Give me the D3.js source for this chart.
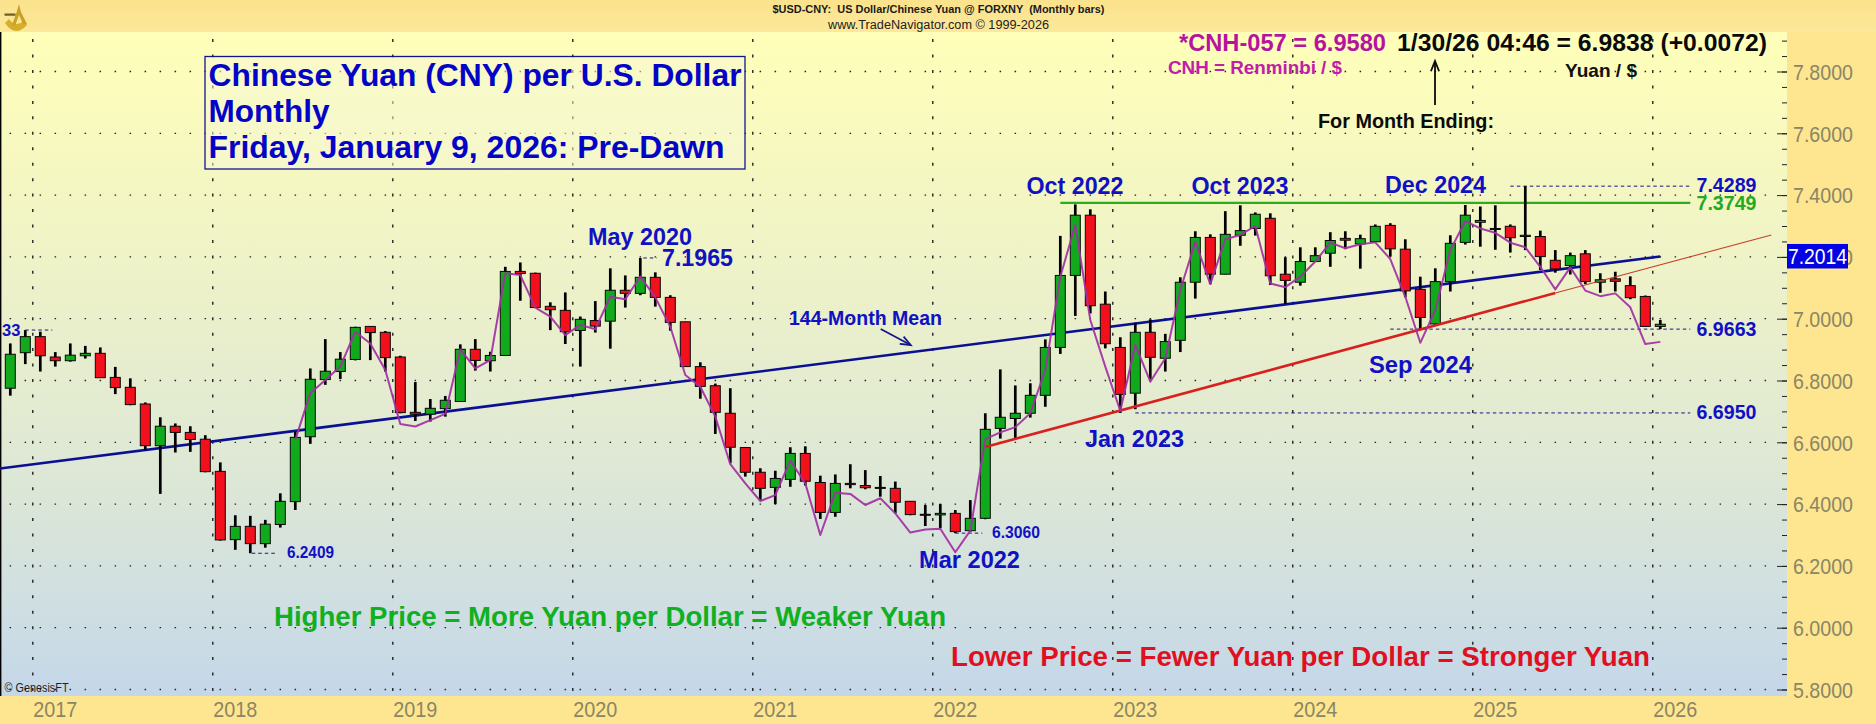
<!DOCTYPE html>
<html><head><meta charset="utf-8">
<style>html,body{margin:0;padding:0;background:#fce594;overflow:hidden}svg{display:block}text{font-family:"Liberation Sans",Arial,sans-serif}</style>
<script src="https://cdn.jsdelivr.net/npm/d3@7"></script>
</head><body><svg id="c" width="1876" height="724"></svg>
<script>
// Months run from Nov 2016 (index -2, Jan 2017 = 0) to Jan 2026.
const firstMonthIndex = -2;
const opens = [6.775,6.890,6.942,6.876,6.864,6.880,6.888,6.810,6.778,6.724,6.589,6.652,6.632,6.610,
 6.506,6.285,6.328,6.272,6.334,6.408,6.618,6.803,6.829,6.868,6.975,6.956,
 6.876,6.697,6.691,6.709,6.732,6.901,6.864,6.881,7.153,7.147,7.040,7.027,
 6.962,6.994,6.992,7.092,7.082,7.134,7.069,6.990,6.845,6.783,6.694,6.583,
 6.503,6.454,6.480,6.564,6.470,6.373,6.467,6.460,6.452,6.451,6.409,6.367,
 6.365,6.370,6.314,6.354,6.645,6.677,6.694,6.752,6.907,7.140,7.335,7.047,
 6.907,6.759,6.956,6.872,6.930,7.118,7.263,7.144,7.270,7.292,7.325,7.144,
 7.118,7.185,7.212,7.260,7.242,7.249,7.302,7.225,7.095,6.983,7.120,7.247,
 7.312,7.292,7.299,7.270,7.266,7.189,7.172,7.210,7.118,7.129,7.107,7.072,6.975];
const highs = [6.920,6.963,6.958,6.892,6.920,6.912,6.907,6.844,6.807,6.729,6.681,6.661,6.652,6.623,
 6.535,6.364,6.362,6.349,6.435,6.634,6.839,6.934,6.892,6.974,6.976,6.960,
 6.880,6.795,6.740,6.750,6.917,6.934,6.893,7.168,7.182,7.149,7.053,7.085,
 7.007,7.057,7.163,7.140,7.1965,7.150,7.076,6.990,6.859,6.790,6.775,6.583,
 6.516,6.508,6.584,6.587,6.492,6.496,6.529,6.510,6.491,6.473,6.409,6.397,
 6.400,6.381,6.413,6.694,6.836,6.784,6.791,6.933,7.268,7.370,7.354,7.088,
 6.940,6.987,6.998,6.951,7.134,7.283,7.273,7.348,7.367,7.344,7.341,7.199,
 7.231,7.231,7.280,7.283,7.272,7.305,7.309,7.257,7.136,7.163,7.270,7.368,
 7.363,7.367,7.305,7.4289,7.285,7.222,7.214,7.222,7.147,7.152,7.137,7.075,6.996];
const lows = [6.751,6.853,6.829,6.845,6.861,6.871,6.809,6.756,6.720,6.575,6.433,6.567,6.569,6.503,
 6.282,6.252,6.2409,6.259,6.324,6.381,6.595,6.786,6.805,6.865,6.866,6.829,
 6.694,6.669,6.667,6.683,6.732,6.832,6.829,6.880,7.058,7.036,6.963,6.918,
 6.845,6.955,6.903,7.036,7.076,7.039,6.961,6.845,6.741,6.627,6.532,6.489,
 6.413,6.400,6.456,6.460,6.352,6.359,6.451,6.448,6.424,6.370,6.364,6.329,
 6.322,6.306,6.311,6.351,6.612,6.613,6.680,6.715,6.886,7.009,7.017,6.904,
 6.695,6.707,6.804,6.829,6.892,7.065,7.112,7.144,7.236,7.269,7.109,7.048,
 7.107,7.185,7.168,7.225,7.162,7.248,7.201,7.069,6.963,6.980,7.088,7.240,
 7.233,7.223,7.214,7.222,7.158,7.149,7.143,7.112,7.084,7.088,7.063,6.974,6.9663];
const closes = [6.885,6.942,6.880,6.864,6.882,6.888,6.809,6.777,6.722,6.589,6.652,6.632,6.609,6.505,
 6.284,6.328,6.272,6.335,6.409,6.616,6.804,6.830,6.869,6.972,6.955,6.874,
 6.696,6.691,6.710,6.736,6.901,6.865,6.881,7.153,7.146,7.036,7.029,6.958,
 6.998,6.976,7.092,7.082,7.134,7.069,6.988,6.845,6.781,6.697,6.584,6.503,
 6.451,6.483,6.564,6.474,6.373,6.467,6.463,6.453,6.454,6.406,6.366,6.365,
 6.370,6.311,6.354,6.642,6.681,6.694,6.752,6.907,7.140,7.335,7.042,6.919,
 6.755,6.956,6.875,6.926,7.118,7.263,7.144,7.273,7.285,7.338,7.139,7.124,
 7.185,7.204,7.253,7.254,7.259,7.299,7.226,7.090,7.004,7.120,7.244,7.335,
 7.318,7.290,7.262,7.266,7.201,7.161,7.204,7.120,7.126,7.121,7.068,6.975,6.982];

// CNH close, from Jun 2018 (index 17)
const cnhFirstIndex = 17;
const cnhCloses = [6.608,6.759,6.802,6.845,6.958,6.920,6.834,6.659,6.651,6.672,6.692,6.901,
 6.839,6.866,7.147,7.141,7.036,7.007,6.947,6.980,6.966,7.071,7.063,7.136,7.069,6.974,6.818,6.780,6.683,6.529,6.467,
 6.410,6.429,6.541,6.467,6.300,6.437,6.433,6.397,6.419,6.370,6.308,6.318,
 6.320,6.244,6.314,6.610,6.632,6.649,6.694,6.834,7.136,7.303,6.996,6.845,
 6.702,6.915,6.796,6.872,7.093,7.249,7.112,7.257,7.271,7.300,7.114,7.102,
 7.136,7.185,7.246,7.228,7.241,7.247,7.193,7.071,6.922,7.028,7.222,7.316,
 7.292,7.278,7.246,7.231,7.168,7.095,7.166,7.091,7.073,7.082,7.037,6.918,6.925];

const meanMonths = [-2.69,108];
const meanValues = [6.515,7.2014];
const trendMonths = [63,101];
const trendValues = [6.585,7.083];
const trendExtMonths = [101,115.4];
const trendExtValues = [7.083,7.271];
const resistMonths = [68,110];
const resistValues = [7.3749,7.3749];

const yearLabels = [2017,2018,2019,2020,2021,2022,2023,2024,2025,2026];
const priceTicks = [5.8,6.0,6.2,6.4,6.6,6.8,7.0,7.2,7.4,7.6,7.8];
const priceMinorTicks = [5.8,5.85,5.9,5.95,6.0,6.05,6.1,6.15,6.2,6.25,6.3,6.35,6.4,6.45,6.5,6.55,6.6,6.65,6.7,6.75,6.8,6.85,6.9,6.95,7.0,7.05,7.1,7.15,7.2,7.25,7.3,7.35,7.4,7.45,7.5,7.55,7.6,7.65,7.7,7.75,7.8,7.85,7.9];
const lastValue = 7.2014;

const L = 0, R = 1787, T = 32, B = 696;
const x = d3.scaleLinear().domain([0,108]).range([40.3,1660.3]);
const y = d3.scaleLinear().domain([5.8,7.8]).range([689.5,71.5]);
const svg = d3.select('#c');
const defs = svg.append('defs');
const g1 = defs.append('linearGradient').attr('id','bg').attr('x1',0).attr('y1',0).attr('x2',0).attr('y2',1);
[[0,'#ffffb9'],[0.22,'#f5f7c2'],[0.45,'#e9efcc'],[0.68,'#dde7d6'],[0.85,'#d0dfe1'],[1,'#c4d7e9']].forEach(s=>g1.append('stop').attr('offset',s[0]).attr('stop-color',s[1]));
const g2 = defs.append('linearGradient').attr('id','top').attr('x1',0).attr('y1',0).attr('x2',0).attr('y2',1);
[[0,'#fbe28c'],[1,'#fce89a']].forEach(s=>g2.append('stop').attr('offset',s[0]).attr('stop-color',s[1]));

svg.append('rect').attr('width',1876).attr('height',724).attr('fill','#fde68f');
svg.append('rect').attr('width',1876).attr('height',T).attr('fill','url(#top)');
svg.append('rect').attr('x',L).attr('y',T).attr('width',R-L).attr('height',B-T).attr('fill','url(#bg)');
svg.append('line').attr('x1',0.7).attr('x2',0.7).attr('y1',T).attr('y2',B).attr('stroke','#000').attr('stroke-width',1.4);

// grid
const yearTickPos = yearLabels.map((yr,i)=>12*i-0.5);
const grid = svg.append('g');
grid.selectAll('line.h').data(priceTicks).join('line').attr('class','h')
  .attr('x1',x(-2)-0.7).attr('x2',1768).attr('y1',d=>y(d)).attr('y2',d=>y(d))
  .attr('stroke','#222').attr('stroke-width',1.3).attr('stroke-dasharray','1.5 13.5');
grid.selectAll('g.v').data(yearTickPos).join('g').attr('class','v').each(function(m){
  d3.select(this).selectAll('line').data(priceMinorTicks).join('line')
    .attr('x1',x(m)).attr('x2',x(m)).attr('y1',d=>y(d)-1.5).attr('y2',d=>y(d)+1.5)
    .attr('stroke','#111').attr('stroke-width',1.3);
});

// axes
const yAxisMinor = d3.axisLeft(y).tickValues(priceMinorTicks).tickSize(5).tickFormat('');
const yAxisMajor = d3.axisLeft(y).tickValues(priceTicks).tickSize(10).tickFormat(d3.format('.4f'));
const gm = svg.append('g').attr('transform',`translate(${R},0)`).call(yAxisMinor);
gm.select('.domain').remove();
gm.selectAll('line').attr('stroke','#222').attr('stroke-width',1);
const gM = svg.append('g').attr('transform',`translate(${R},0)`).call(yAxisMajor);
gM.select('.domain').remove();
gM.selectAll('line').attr('stroke','#222').attr('stroke-width',1);
gM.selectAll('text').attr('x',6).attr('dy','0.36em').attr('text-anchor','start')
  .attr('textLength',60).attr('lengthAdjust','spacingAndGlyphs')
  .style('font-family','"Liberation Sans",Arial,sans-serif').style('font-size','21.5px').attr('fill','#8b8566');
const xAxis = d3.axisBottom(x).tickValues(yearTickPos).tickSize(0).tickFormat((d,i)=>yearLabels[i]);
const gx = svg.append('g').attr('transform',`translate(0,${B})`).call(xAxis);
gx.select('.domain').remove();
gx.selectAll('text').attr('y',21).attr('dy',0).attr('text-anchor','start')
  .attr('textLength',44).attr('lengthAdjust','spacingAndGlyphs')
  .style('font-family','"Liberation Sans",Arial,sans-serif').style('font-size','21.5px').attr('fill','#8b8566');

const lineGen = d3.line().x(d=>x(d[0])).y(d=>y(d[1]));
const seg = (ms,vs)=>ms.map((m,i)=>[m,vs[i]]);

// mean and trend lines
svg.append('path').attr('d',lineGen(seg(meanMonths,meanValues))).attr('fill','none').attr('stroke','#0a0f94').attr('stroke-width',2.6);
svg.append('path').attr('d',lineGen(seg(resistMonths,resistValues))).attr('fill','none').attr('stroke','#2aae1e').attr('stroke-width',2.4);

// dashed level lines
const levelDash = [[-1.0,0.8,6.9633],[14.1,15.8,6.2409],[40.2,41.1,7.1965],[61,62.8,6.3060],[73,110,6.6950],[90,110,6.9663],[98,110,7.4289]];
svg.selectAll('line.lvl').data(levelDash).join('line').attr('class','lvl')
  .attr('x1',d=>x(d[0])).attr('x2',d=>x(d[1])).attr('y1',d=>y(d[2])).attr('y2',d=>y(d[2]))
  .attr('stroke','#15158c').attr('stroke-width',1).attr('stroke-dasharray','3.5 3');

// candles
const bars = opens.map((o,i)=>({m:firstMonthIndex+i,o,h:highs[i],l:lows[i],c:closes[i]}));
const cg = svg.append('g');
cg.selectAll('line').data(bars).join('line')
  .attr('x1',d=>x(d.m)).attr('x2',d=>x(d.m)).attr('y1',d=>y(d.h)).attr('y2',d=>y(d.l))
  .attr('stroke','#000').attr('stroke-width',2.7);
cg.selectAll('rect').data(bars).join('rect')
  .attr('x',d=>x(d.m)-5).attr('width',10)
  .attr('y',d=>y(Math.max(d.o,d.c))).attr('height',d=>Math.max(1,Math.abs(y(d.o)-y(d.c))))
  .attr('fill',d=>d.c>=d.o?'#10aa1c':'#f2101c').attr('stroke','#0a0a0a').attr('stroke-width',1);

// trend lines on top of candles
svg.append('path').attr('d',lineGen(seg(trendMonths,trendValues))).attr('fill','none').attr('stroke','#d8201f').attr('stroke-width',2.6);
svg.append('path').attr('d',lineGen(seg(trendExtMonths,trendExtValues))).attr('fill','none').attr('stroke','#c8402c').attr('stroke-width',1.1);

// CNH line
svg.append('path').attr('d',d3.line().x((d,i)=>x(cnhFirstIndex+i)).y(d=>y(d))(cnhCloses))
  .attr('fill','none').attr('stroke','#a22fa4').attr('stroke-width',2).attr('stroke-opacity',0.92).attr('stroke-linejoin','round');

// last value tag
svg.append('rect').attr('x',R).attr('y',y(lastValue)-12.5).attr('width',61).attr('height',24.5).attr('fill','#0202e4');
svg.append('text').attr('x',R+1).attr('y',y(lastValue)+7.5).attr('fill','#fff').style('font-size','21.5px')
  .attr('textLength',59).attr('lengthAdjust','spacingAndGlyphs').text(d3.format('.4f')(lastValue));

// text helpers
function t(s,px,py,size,fill,opts){opts=opts||{};
  const e=svg.append('text').attr('x',px).attr('y',py).attr('fill',fill)
    .style('font-size',size+'px').style('font-weight',opts.w||'bold').text(s);
  if(opts.len) e.attr('textLength',opts.len).attr('lengthAdjust','spacingAndGlyphs');
  return e;}
const BL='#1010c4';
// title box
svg.append('rect').attr('x',205).attr('y',56.5).attr('width',540).attr('height',112.5).attr('fill','#f6f8d4').attr('fill-opacity',0.55).attr('stroke','#14148c').attr('stroke-width',1.3);
t('Chinese Yuan (CNY) per U.S. Dollar',208.5,86,32,'#0404c8',{len:533});
t('Monthly',208.5,122,32,'#0404c8',{len:121});
t('Friday, January 9, 2026: Pre-Dawn',208.5,158,32,'#0404c8',{len:516});

// header
t('$USD-CNY:  US Dollar/Chinese Yuan @ FORXNY  (Monthly bars)',772.5,13,11,'#1a1a1a',{len:332}).style('white-space','pre');
t('www.TradeNavigator.com © 1999-2026',828,29,12.5,'#222',{w:'normal',len:221});

t('*CNH-057 = 6.9580',1179,50.5,23,'#b4149e',{len:207});
t('1/30/26 04:46 = 6.9838 (+0.0072)',1397,50.5,23,'#0a0a0a',{len:370});
t('CNH = Renminbi / $',1168,73.5,18,'#c020a8',{len:174});
t('Yuan / $',1565,76.5,18.5,'#111',{len:72});
t('For Month Ending:',1318,128,21,'#0a0a0a',{len:176});

// arrows
function arrow(x1,y1,x2,y2,col,w){
  svg.append('line').attr('x1',x1).attr('y1',y1).attr('x2',x2).attr('y2',y2).attr('stroke',col).attr('stroke-width',w);
  const a=Math.atan2(y2-y1,x2-x1),l=11,s=0.38;
  const p=[[x2,y2],[x2-l*Math.cos(a-s),y2-l*Math.sin(a-s)],[x2,y2],[x2-l*Math.cos(a+s),y2-l*Math.sin(a+s)]];
  svg.append('path').attr('d',d3.line()(p)).attr('fill','none').attr('stroke',col).attr('stroke-width',w);
}
arrow(1435,105,1435,61,'#0a0a0a',1.8);
arrow(880.7,329,910.7,345,'#14148c',1.8);

// annotations
t('May 2020',588,245,23.5,BL,{len:104});
t('7.1965',662,266,23,BL,{len:71});
t('144-Month Mean',789,325,19.5,BL,{len:153});
t('Oct 2022',1026.5,194,23.5,BL,{len:97});
t('Oct 2023',1191.5,194,23.5,BL,{len:97});
t('Dec 2024',1385,193,23.5,BL,{len:101});
t('Sep 2024',1369,373,23.5,BL,{len:103});
t('Jan 2023',1085,447,23.5,BL,{len:99});
t('Mar 2022',919,568,23.5,BL,{len:101});
t('6.3060',992,538,16.5,BL,{len:48});
t('6.2409',287,558,16.5,BL,{len:47});
t('33',2,335.5,16.5,BL);
t('7.4289',1696.5,192,20,BL,{len:60});
t('7.3749',1696.5,210,20,'#22aa22',{len:60});
t('6.9663',1696.5,335.5,20,BL,{len:60});
t('6.6950',1696.5,419,20,BL,{len:60});
t('Higher Price = More Yuan per Dollar = Weaker Yuan',274,626,27.5,'#10b020',{len:672});
t('Lower Price = Fewer Yuan per Dollar = Stronger Yuan',951,666,27.5,'#e01020',{len:699});
t('© GenesisFT',4.5,692,12.5,'#222',{w:'normal',len:64});

// logo
const logo=svg.append('g');
logo.append('path').attr('d','M5 23 Q15 38 27 25 L24 21 Q15 28 9 19 Z').attr('fill','#d6ae2a');
logo.append('path').attr('d','M19 4 L21 12 L27 24 L23 24 L19 15 L15 26 L12 25 L17 11 Z').attr('fill','#c9a128');
logo.append('rect').attr('x',4.5).attr('y',13.5).attr('width',11).attr('height',2.2).attr('fill','#6e5a1c');
</script></body></html>
